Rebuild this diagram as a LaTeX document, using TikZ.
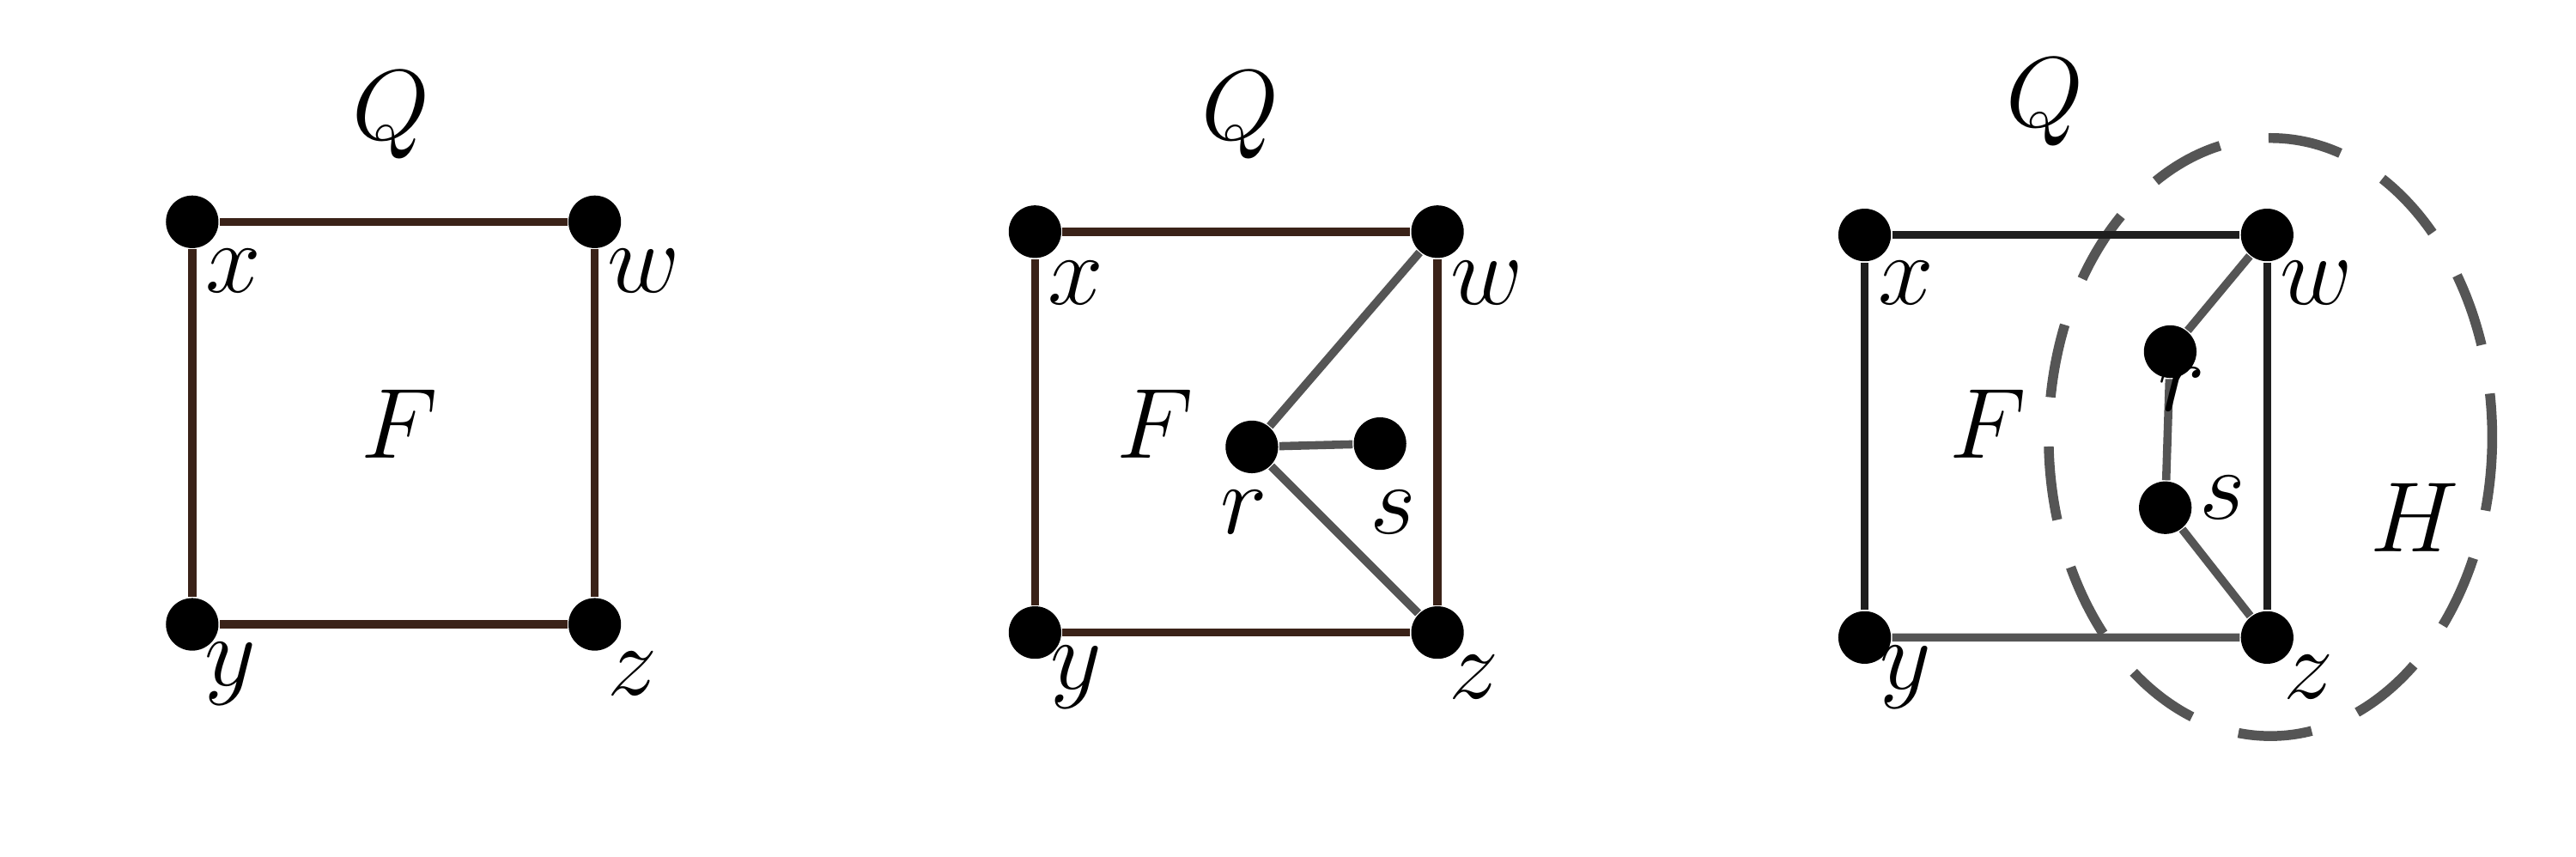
\documentclass[tikz,border=0pt]{standalone}
\begin{document}
\begin{tikzpicture}[x=0.1mm,y=-0.1mm,
  dot/.style={circle,fill=black,inner sep=0pt,minimum size=3.2mm},
  lab/.style={font=\fontsize{17}{20}\selectfont},
  br/.style={line width=0.5mm,draw={rgb,255:red,58;green,34;blue,24}},
  gr/.style={line width=0.5mm,draw={rgb,255:red,85;green,85;blue,85}},
  bk/.style={line width=0.5mm,draw={rgb,255:red,30;green,30;blue,30}}]
\useasboundingbox (0,0) rectangle (1568,521.6);
% panel 1
\node[dot] (x1) at (117,135) {}; \node[dot] (w1) at (362,135) {};
\node[dot] (y1) at (117,380) {}; \node[dot] (z1) at (362,380) {};
\draw[br] (x1)--(w1)--(z1)--(y1)--(x1);
\node[lab] (lx1) at (142,165) {$x$}; \node[lab] (lw1) at (392,165) {$w$};
\node[lab] (ly1) at (140,410) {$y$}; \node[lab] (lz1) at (385,410) {$z$};
\node[lab] (q1) at (238,70) {$Q$}; \node[lab] (f1) at (243,258) {$F$};
% panel 2
\node[dot] (x2) at (630,141) {}; \node[dot] (w2) at (875,141) {};
\node[dot] (y2) at (630,385) {}; \node[dot] (z2) at (875,385) {};
\node[dot] (r2) at (762,272) {}; \node[dot] (s2) at (840,270) {};
\draw[br] (x2)--(w2)--(z2)--(y2)--(x2);
\draw[gr] (r2)--(w2) (r2)--(s2) (r2)--(z2);
\node[lab] (lx2) at (655,172) {$x$}; \node[lab] (lw2) at (905,172) {$w$};
\node[lab] (ly2) at (655,412) {$y$}; \node[lab] (lz2) at (897,412) {$z$};
\node[lab] (q2) at (755,70) {$Q$}; \node[lab] (f2) at (703,258) {$F$};
\node[lab] (lr2) at (757,312) {$r$}; \node[lab] (ls2) at (848,312) {$s$};
% panel 3
\draw[line width=0.6mm,draw={rgb,255:red,85;green,85;blue,85},dash pattern=on 4.5mm off 3mm] (1382,266) ellipse [x radius=135,y radius=182];
\node[dot] (x3) at (1135,143) {}; \node[dot] (w3) at (1380,143) {};
\node[dot] (y3) at (1135,388) {}; \node[dot] (z3) at (1380,388) {};
\node[dot] (r3) at (1321,214) {}; \node[dot] (s3) at (1318,309) {};
\draw[bk] (y3)--(x3)--(w3)--(z3);
\draw[gr] (y3)--(z3) (w3)--(r3)--(s3)--(z3);
\node[lab] (lx3) at (1160,172) {$x$}; \node[lab] (lw3) at (1410,172) {$w$};
\node[lab] (ly3) at (1160,412) {$y$}; \node[lab] (lz3) at (1405,412) {$z$};
\node[lab] (q3) at (1245,62) {$Q$}; \node[lab] (f3) at (1210,258) {$F$};
\node[lab] (lr3) at (1328,237) {$r$}; \node[lab] (ls3) at (1353,303) {$s$};
\node[lab] (h3) at (1470,315) {$H$};
\end{tikzpicture}
\end{document}
